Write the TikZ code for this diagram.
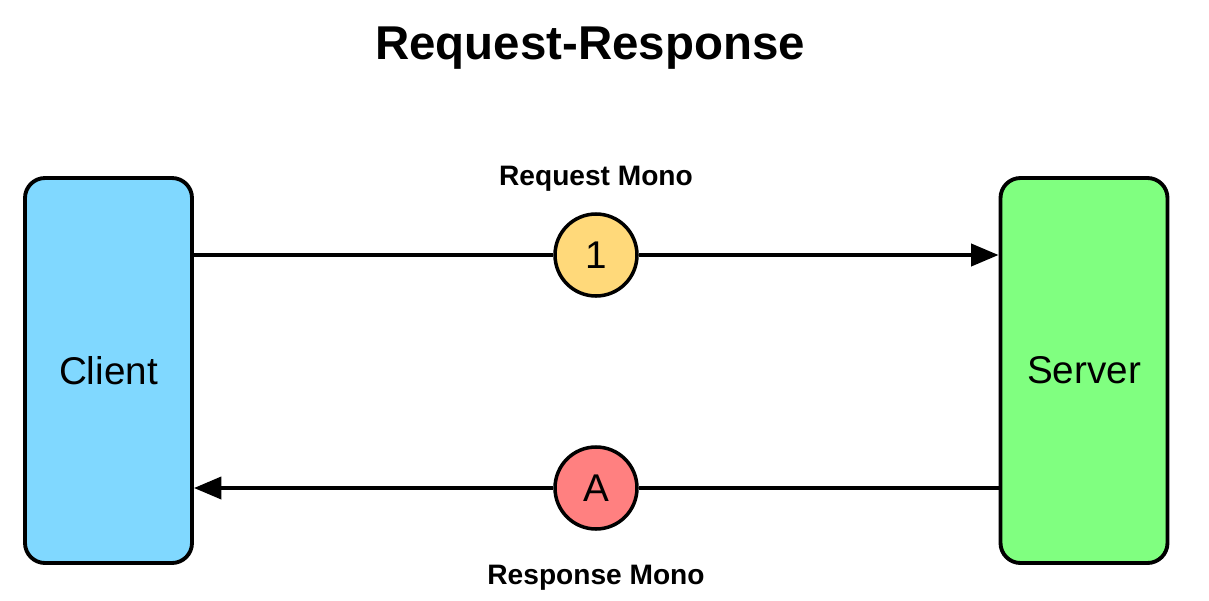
\documentclass[tikz,border=0pt]{standalone}
\usepackage{fontspec}
\setmainfont{Liberation Sans}
\usepackage{tikz}
\usetikzlibrary{arrows.meta,positioning,calc}
\definecolor{cblue}{HTML}{80D8FF}
\definecolor{sgreen}{HTML}{80FF80}
\definecolor{myellow}{HTML}{FFD97A}
\definecolor{mred}{HTML}{FF8080}
\tikzset{
  % Tall rounded peer box.
  peer/.style  = {rectangle, rounded corners=4mm, draw=black, fill=#1, line width=2.2pt,
                  minimum width=3.34cm, minimum height=7.7cm, font=\fontsize{22}{26}\selectfont},
  peer/.default = cblue,
  sig/.style   = {circle, draw=black, fill=#1, line width=2pt, minimum size=1.64cm,
                  inner sep=0pt, font=\fontsize{22}{26}\selectfont},
  flow/.style  = {-{Triangle[length=5.5mm,width=4.4mm]}, line width=2.3pt},
  lbl/.style   = {font=\bfseries\fontsize{16}{19}\selectfont},
  ttl/.style   = {font=\bfseries\fontsize{27}{32}\selectfont},
}
\begin{document}
\begin{tikzpicture}
\useasboundingbox (0,0) rectangle (24.18,-12);
\node[ttl] (title) at (11.8,-0.96) {Request-Response};
\node[peer=cblue]  (client) at (2.17,-7.41) {Client};
\node[peer=sgreen] (server) at (21.68,-7.41) {Server};
\node[sig=myellow] (one) at (11.92,-5.1) {1};
\node[sig=mred]    (ack) at (11.92,-9.76) {A};
\draw[line width=2.3pt] (client.east |- one) -- (one);
\draw[flow] (one) -- (server.west |- one);
\draw[line width=2.3pt] (server.west |- ack) -- (ack);
\draw[flow] (ack) -- (client.east |- ack);
\node[lbl, above=0.3cm of one] (reqlbl) {Request Mono};
\node[lbl, below=0.56cm of ack] (reslbl) {Response Mono};
\end{tikzpicture}
\end{document}
